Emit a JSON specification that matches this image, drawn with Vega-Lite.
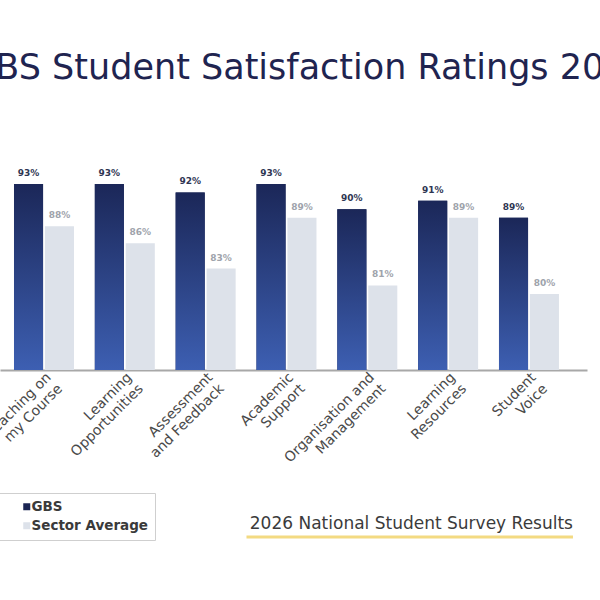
{
  "$schema": "https://vega.github.io/schema/vega-lite/v6.json",
  "width": 587,
  "height": 203,
  "autosize": {"type": "none"},
  "padding": {"left": 0, "top": 167, "right": 13, "bottom": 230},
  "background": "white",
  "title": {
    "text": "GBS Student Satisfaction Ratings 2026",
    "font": "DejaVu Sans",
    "fontSize": 35,
    "fontWeight": "normal",
    "color": "#1f2450",
    "anchor": "middle",
    "baseline": "alphabetic",
    "offset": 53,
    "dx": 15
  },
  "config": {"view": {"stroke": null}, "font": "DejaVu Sans"},
  "data": {
    "values": [
      {"category": "Teaching on my Course", "series": "GBS", "value": 93},
      {"category": "Teaching on my Course", "series": "Sector Average", "value": 88},
      {"category": "Learning Opportunities", "series": "GBS", "value": 93},
      {"category": "Learning Opportunities", "series": "Sector Average", "value": 86},
      {"category": "Assessment and Feedback", "series": "GBS", "value": 92},
      {"category": "Assessment and Feedback", "series": "Sector Average", "value": 83},
      {"category": "Academic Support", "series": "GBS", "value": 93},
      {"category": "Academic Support", "series": "Sector Average", "value": 89},
      {"category": "Organisation and Management", "series": "GBS", "value": 90},
      {"category": "Organisation and Management", "series": "Sector Average", "value": 81},
      {"category": "Learning Resources", "series": "GBS", "value": 91},
      {"category": "Learning Resources", "series": "Sector Average", "value": 89},
      {"category": "Student Voice", "series": "GBS", "value": 89},
      {"category": "Student Voice", "series": "Sector Average", "value": 80}
    ]
  },
  "layer": [
    {
      "mark": {"type": "bar"},
      "encoding": {
        "x": {
          "field": "category",
          "type": "nominal",
          "sort": null,
          "scale": {"paddingInner": 0.258, "paddingOuter": 0.26, "align": 0.333},
          "axis": {
            "title": null,
            "labelAngle": -45,
            "labelAlign": "right",
            "labelBaseline": "top",
            "labelFont": "DejaVu Sans",
            "labelFontSize": 14,
            "labelColor": "#4a4a4a",
            "labelLineHeight": 16,
            "labelPadding": 0,
            "labelLimit": 0,
            "ticks": false,
            "domainColor": "#a8a8a8",
            "domainWidth": 2,
            "labelExpr": "datum.value == 'Teaching on my Course' ? ['Teaching on', 'my Course'] : datum.value == 'Organisation and Management' ? ['Organisation and', 'Management'] : datum.value == 'Assessment and Feedback' ? ['Assessment', 'and Feedback'] : split(datum.value, ' ')",
            "encode": {"labels": {"update": {"dx": {"value": -19}, "dy": {"value": 0}}}}
          }
        },
        "xOffset": {"field": "series", "sort": ["GBS", "Sector Average"], "scale": {"paddingInner": 0.06}},
        "y": {"field": "value", "type": "quantitative", "scale": {"domain": [71, 95], "zero": false, "nice": false}, "axis": null},
        "y2": {"datum": 71},
        "color": {
          "field": "series",
          "type": "nominal",
          "scale": {"domain": ["GBS", "Sector Average"], "range": ["#1b2553", "#dde2ea"]},
          "legend": {
            "orient": "none",
            "legendX": -12,
            "legendY": 326,
            "title": null,
            "direction": "vertical",
            "symbolType": "square",
            "symbolSize": 49,
            "symbolStrokeWidth": 0,
            "symbolOffset": 25,
            "labelOffset": -2,
            "labelFont": "DejaVu Sans",
            "labelFontSize": 13.5,
            "labelFontWeight": "bold",
            "labelColor": "#3a3a3a",
            "padding": 7,
            "rowPadding": 4,
            "strokeColor": "#cfcfcf",
            "fillColor": "white"
          }
        }
      }
    },
    {
      "transform": [{"filter": "datum.series == 'GBS'"}],
      "mark": {
        "type": "bar",
        "color": {
          "gradient": "linear",
          "x1": 0, "y1": 0, "x2": 0, "y2": 1,
          "stops": [
            {"offset": 0, "color": "#1b2758"},
            {"offset": 1, "color": "#3d5fb2"}
          ]
        }
      },
      "encoding": {
        "x": {"field": "category", "type": "nominal", "sort": null},
        "xOffset": {"field": "series", "sort": ["GBS", "Sector Average"]},
        "y": {"field": "value", "type": "quantitative"},
        "y2": {"datum": 71}
      }
    },
    {
      "transform": [{"calculate": "datum.value + '%'", "as": "label"}],
      "mark": {"type": "text", "dy": -11, "fontSize": 9, "fontWeight": "bold", "font": "DejaVu Sans", "baseline": "middle"},
      "encoding": {
        "x": {"field": "category", "type": "nominal", "sort": null},
        "xOffset": {"field": "series", "sort": ["GBS", "Sector Average"]},
        "y": {"field": "value", "type": "quantitative"},
        "text": {"field": "label"},
        "color": {"condition": {"test": "datum.series == 'GBS'", "value": "#2e3552"}, "value": "#9ea3ab"}
      }
    },
    {
      "data": {"values": [{}]},
      "mark": {"type": "rule", "color": "#f3da82", "strokeWidth": 3, "xOffset": -40, "x2Offset": 44, "yOffset": 167},
      "encoding": {
        "x": {"datum": "Academic Support"},
        "x2": {"datum": "Student Voice"},
        "y": {"datum": 71}
      }
    },
    {
      "data": {"values": [{}]},
      "mark": {"type": "text", "text": "2026 National Student Survey Results", "font": "DejaVu Sans", "fontSize": 17, "fontWeight": "normal", "color": "#3b3b3b", "align": "right", "baseline": "middle", "dx": 44, "dy": 154},
      "encoding": {
        "x": {"datum": "Student Voice"},
        "y": {"datum": 71}
      }
    }
  ]
}
